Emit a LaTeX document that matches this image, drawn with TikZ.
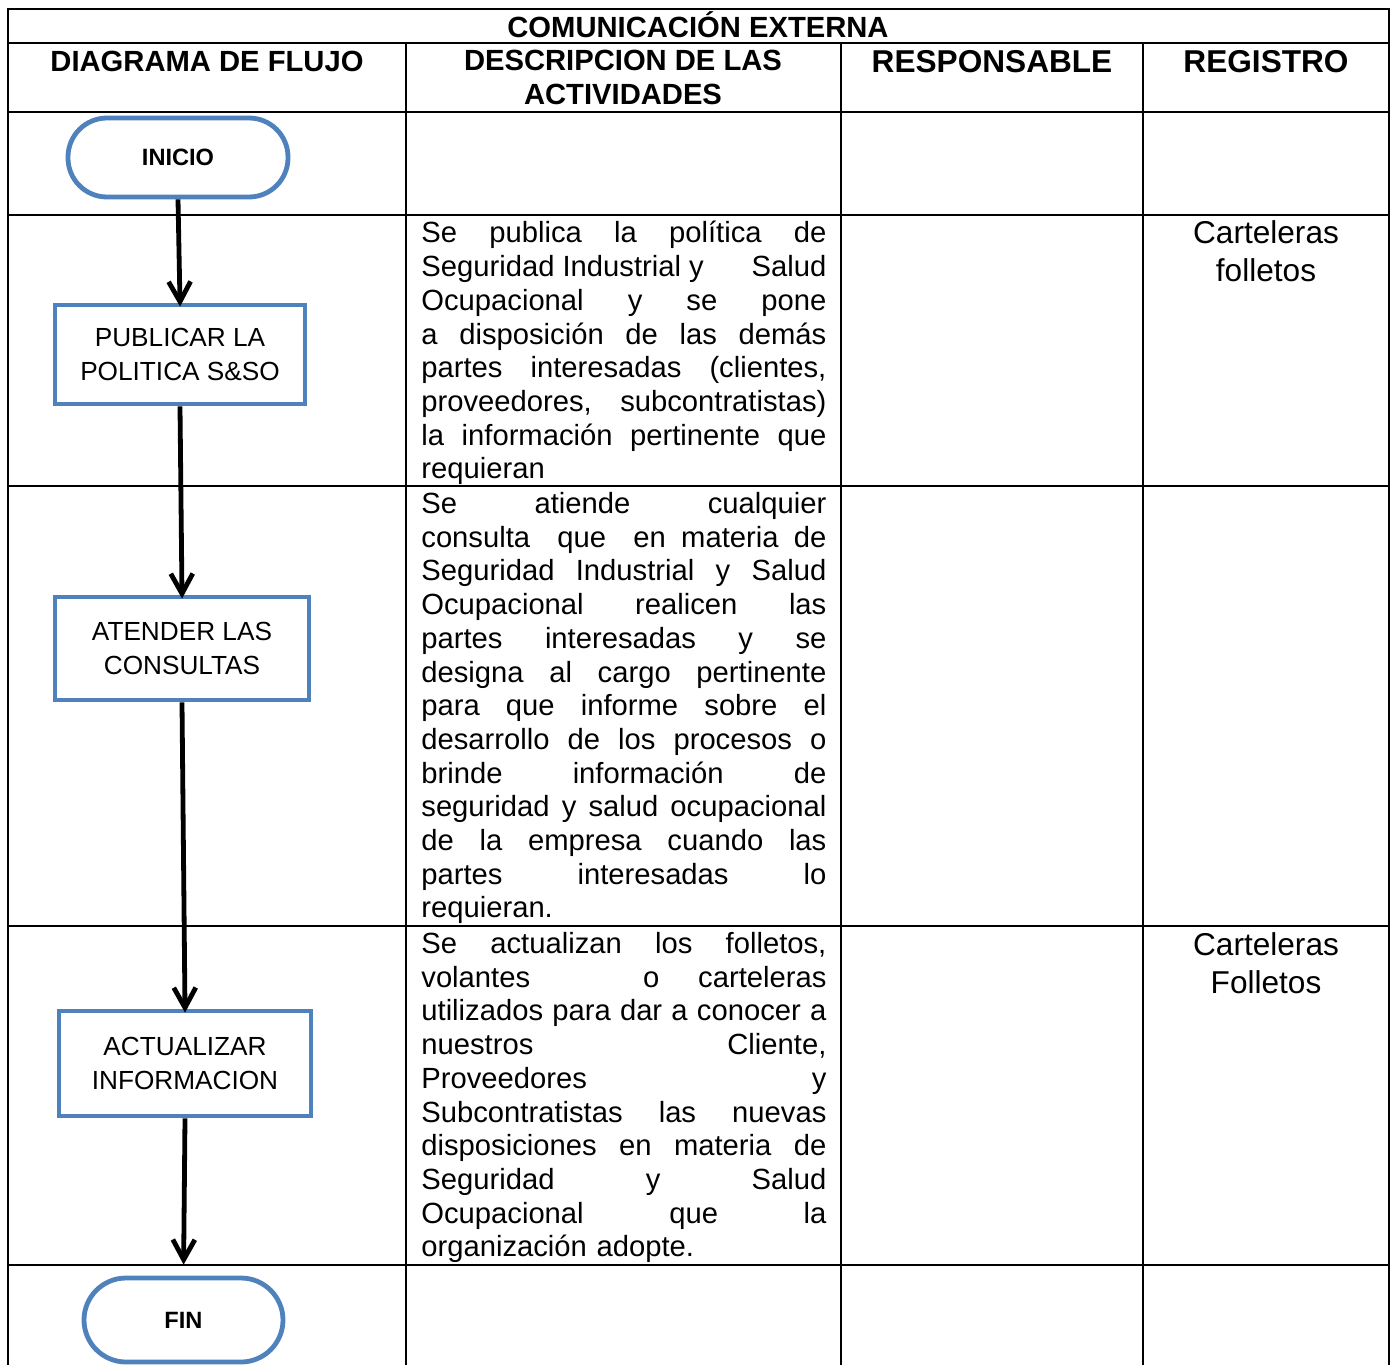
\documentclass[tikz,border=0pt]{standalone}
\usepackage{fontspec}
\setmainfont{Liberation Sans}
\usetikzlibrary{arrows.meta}
\definecolor{flujo}{HTML}{4F81BD}
\newcommand{\jline}[1]{\leavevmode\hbox to 202.5pt{\spaceskip=0.278em plus 1fil\relax #1}\\}

\begin{document}
\begin{tikzpicture}[x=0.5pt,y=-0.5pt,
  rejilla/.style={line width=1.1pt},
  proceso/.style={draw=flujo,line width=2.4pt,fill=white,align=center,inner sep=0pt,
    font=\fontsize{13.1}{17}\selectfont},
  terminal/.style={proceso,font=\bfseries\fontsize{11.8}{14}\selectfont},
  flecha/.style={line width=2.4pt,shorten >=-2pt,-{Straight Barb[length=10pt,width=11pt]}},
  cabecera/.style={font=\bfseries\fontsize{14.6}{17}\selectfont,align=center,inner sep=0pt},
  desc/.style={anchor=north west,text width=202.5pt,align=left,inner sep=0pt,
    font=\fontsize{14.6}{16.85}\selectfont},
  registro/.style={anchor=north,align=center,inner sep=0pt,font=\fontsize{15.8}{19}\selectfont}]
  \useasboundingbox (0,0) rectangle (1392,1365);
  % tabla
  \draw[rejilla] (8,1365) -- (8,9) -- (1389,9) -- (1389,1365);
  \foreach \y in {43,112,215,486,926,1265}
    \draw[rejilla] (8,\y) -- (1389,\y);
  \foreach \x in {406,841,1143}
    \draw[rejilla] (\x,43) -- (\x,1365);
  % cabeceras
  \node[cabecera] (titulo) at (698,25) {COMUNICACIÓN EXTERNA};
  \node[cabecera] (hflujo) at (207,61) {DIAGRAMA DE FLUJO};
  \node[cabecera] (hdesc) at (623,77) {DESCRIPCION DE LAS\\ACTIVIDADES};
  \node[cabecera,font=\bfseries\fontsize{15.8}{19}\selectfont] (hresp) at (992,62) {RESPONSABLE};
  \node[cabecera,font=\bfseries\fontsize{15.8}{19}\selectfont] (hreg) at (1266,62) {REGISTRO};
  % diagrama
  \node[terminal,minimum width=110pt,minimum height=39.5pt,rounded corners=19.5pt]
    (inicio) at (178,157.5) {INICIO};
  \node[proceso,minimum width=125pt,minimum height=49.5pt]
    (publicar) at (180,354.5) {PUBLICAR LA\\POLITICA S\&SO};
  \node[proceso,minimum width=127pt,minimum height=51.5pt]
    (atender) at (182,648.5) {ATENDER LAS\\CONSULTAS};
  \node[proceso,minimum width=126pt,minimum height=52.5pt]
    (actualizar) at (185,1063.5) {ACTUALIZAR\\INFORMACION};
  \node[terminal,minimum width=99.5pt,minimum height=42pt,rounded corners=21pt]
    (fin) at (183.5,1320) {FIN};
  \draw[flecha] (inicio.south) -- (publicar.north);
  \draw[flecha] (publicar.south) -- (atender.north);
  \draw[flecha] (atender.south) -- (actualizar.north);
  \draw[flecha,shorten >=5.5pt] (actualizar.south) -- (fin.north);
  % descripciones
  \node[desc] (d1) at (421,221) {%
    \jline{Se publica la política de}
    \jline{Seguridad Industrial y\hfill Salud}
    \jline{Ocupacional y se pone}
    \jline{a disposición de las demás}
    \jline{partes interesadas (clientes,}
    \jline{proveedores, subcontratistas)}
    \jline{la información pertinente que}
    requieran};
  \node[desc] (d2) at (421,492) {%
    \jline{Se atiende cualquier}
    \jline{consulta\hspace{6pt} que\hspace{6pt} en materia de}
    \jline{Seguridad Industrial y Salud}
    \jline{Ocupacional realicen las}
    \jline{partes interesadas y se}
    \jline{designa al cargo pertinente}
    \jline{para que informe sobre el}
    \jline{desarrollo de los procesos o}
    \jline{brinde información de}
    \jline{seguridad y salud ocupacional}
    \jline{de la empresa cuando las}
    \jline{partes interesadas lo}
    requieran.};
  \node[desc] (d3) at (421,932) {%
    \jline{Se actualizan los folletos,}
    \jline{volantes\hspace{37pt} o carteleras}
    \jline{utilizados para dar a conocer a}
    \jline{nuestros Cliente,}
    \jline{Proveedores y}
    \jline{Subcontratistas las nuevas}
    \jline{disposiciones en materia de}
    \jline{Seguridad y Salud}
    \jline{Ocupacional que la}
    organización adopte.};
  % registros
  \node[registro] (r1) at (1266,220) {Carteleras\\folletos};
  \node[registro] (r3) at (1266,932) {Carteleras\\Folletos};
\end{tikzpicture}
\end{document}
